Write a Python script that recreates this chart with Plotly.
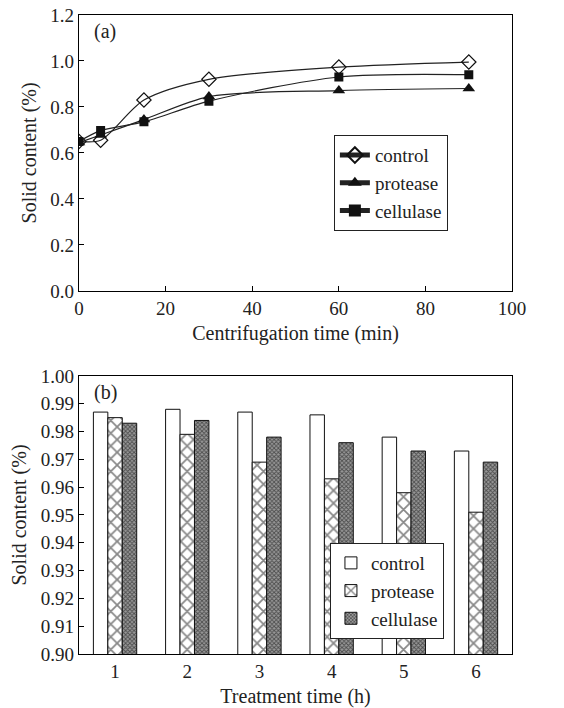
import plotly.graph_objects as go

# ---- data (a) ----
time_min = [0, 5, 15, 30, 60, 90]
control_a = [0.65, 0.655, 0.83, 0.92, 0.973, 0.995]
protease_a = [0.645, 0.678, 0.745, 0.845, 0.871, 0.88]
cellulase_a = [0.65, 0.697, 0.735, 0.825, 0.93, 0.94]

# ---- data (b) ----
treat_h = [1, 2, 3, 4, 5, 6]
control_b = [0.987, 0.988, 0.987, 0.986, 0.978, 0.973]
protease_b = [0.985, 0.979, 0.969, 0.963, 0.958, 0.951]
cellulase_b = [0.983, 0.984, 0.978, 0.976, 0.973, 0.969]

FONT = "Times New Roman, Liberation Serif, serif"
fig = go.Figure()

line_style = dict(color="#222", width=1.2, shape="spline", smoothing=0.8)
fig.add_trace(go.Scatter(x=time_min, y=control_a, name="control", mode="lines+markers",
                         line=line_style, xaxis="x", yaxis="y", legend="legend",
                         marker=dict(symbol="diamond-open", size=11, color="#111", line=dict(width=1.2))))
fig.add_trace(go.Scatter(x=time_min, y=protease_a, name="protease", mode="lines+markers",
                         line=line_style, xaxis="x", yaxis="y", legend="legend",
                         marker=dict(symbol="triangle-up", size=11, color="#111")))
fig.add_trace(go.Scatter(x=time_min, y=cellulase_a, name="cellulase", mode="lines+markers",
                         line=line_style, xaxis="x", yaxis="y", legend="legend",
                         marker=dict(symbol="square", size=9, color="#111")))

bar_line = dict(color="#111", width=1)
fig.add_trace(go.Bar(x=treat_h, y=control_b, name="control", xaxis="x2", yaxis="y2", legend="legend2",
                     marker=dict(color="white", line=bar_line)))
fig.add_trace(go.Bar(x=treat_h, y=protease_b, name="protease", xaxis="x2", yaxis="y2", legend="legend2",
                     marker=dict(color="white", line=bar_line,
                                 pattern=dict(shape="x", size=9, solidity=0.35, fgcolor="#111", bgcolor="white"))))
fig.add_trace(go.Bar(x=treat_h, y=cellulase_b, name="cellulase", xaxis="x2", yaxis="y2", legend="legend2",
                     marker=dict(color="#666", line=bar_line,
                                 pattern=dict(shape="x", size=3, solidity=0.5, fgcolor="#000", bgcolor="#999"))))

axis_common = dict(showline=True, linecolor="black", linewidth=1.2, mirror=True, automargin=False,
                   ticks="inside", ticklen=5, tickcolor="black", showgrid=False, zeroline=False,
                   tickfont=dict(family=FONT, size=19, color="#222"))
TF = dict(family=FONT, size=20, color="#222")
LF = dict(family=FONT, size=19, color="#222")

fig.update_layout(
    width=564, height=708,
    margin=dict(l=0, r=0, t=0, b=0),
    paper_bgcolor="white", plot_bgcolor="white",
    font=dict(family=FONT, size=19, color="#222"),
    barmode="group", bargap=0.4, bargroupgap=0,
    xaxis=dict(domain=[0.140, 0.908], anchor="y", range=[0, 100], dtick=20, **axis_common,
               title=dict(text="Centrifugation time (min)", font=TF, standoff=8)),
    yaxis=dict(domain=[0.589, 0.979], anchor="x", range=[0, 1.2], dtick=0.2, tickformat=".1f", **axis_common,
               title=dict(text="Solid content (%)", font=TF, standoff=8)),
    xaxis2=dict(domain=[0.140, 0.908], anchor="y2", range=[0.5, 6.5], tickvals=treat_h, **{**axis_common, "ticks": ""},
                title=dict(text="Treatment time (h)", font=TF, standoff=10)),
    yaxis2=dict(domain=[0.0763, 0.469], anchor="x2", range=[0.90, 1.00], dtick=0.01, tickformat=".2f", **axis_common,
                title=dict(text="Solid content (%)", font=TF, standoff=8)),
    legend=dict(x=0.592, y=0.809, xanchor="left", yanchor="top", bgcolor="white",
                bordercolor="#222", borderwidth=1, tracegroupgap=0,
                font=LF, itemsizing="constant"),
    legend2=dict(x=0.585, y=0.233, xanchor="left", yanchor="top", bgcolor="white",
                 bordercolor="#222", borderwidth=1, tracegroupgap=0,
                 font=LF, itemwidth=30),
    annotations=[
        dict(text="(a)", x=0.163, y=0.955, xref="paper", yref="paper", showarrow=False,
             xanchor="left", yanchor="middle", font=TF),
        dict(text="(b)", x=0.163, y=0.445, xref="paper", yref="paper", showarrow=False,
             xanchor="left", yanchor="middle", font=TF),
    ],
)

fig.write_html("out.html", config={"displayModeBar": False},
               post_script="document.body.style.margin='0';")
